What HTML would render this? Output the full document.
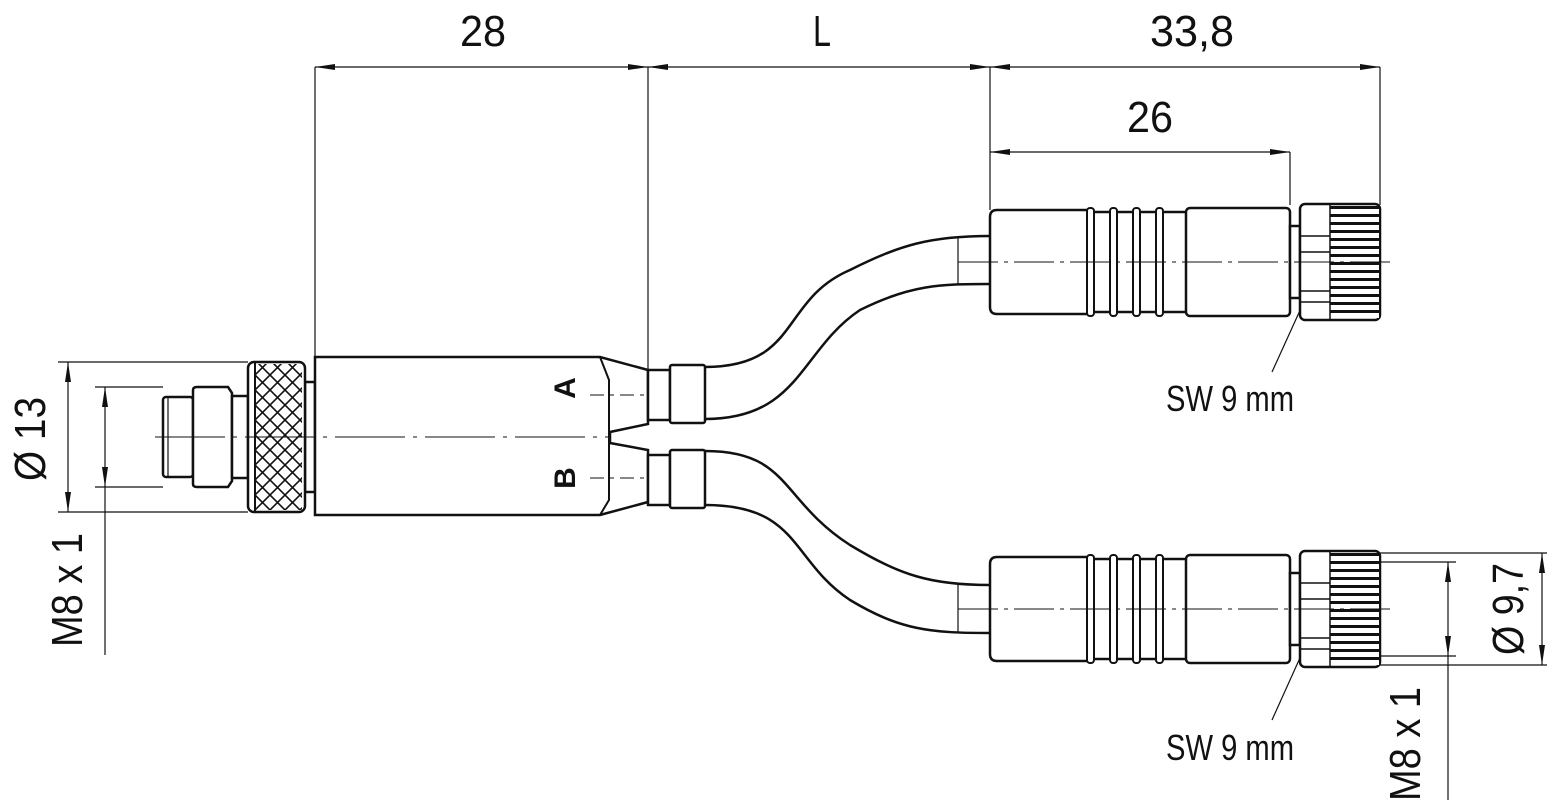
<!DOCTYPE html>
<html><head><meta charset="utf-8"><style>html,body{margin:0;padding:0;background:#fff}svg{display:block}text{font-family:"Liberation Sans",sans-serif;fill:#111}</style></head><body>
<svg width="1549" height="803" viewBox="0 0 1549 803" xmlns="http://www.w3.org/2000/svg">
<defs>
<marker id="ar" viewBox="0 0 20 6" refX="20" refY="3" markerWidth="20" markerHeight="6" orient="auto-start-reverse" markerUnits="userSpaceOnUse"><path d="M0,0 L20,3 L0,6 z" fill="#111"/></marker>
<pattern id="kn" width="15" height="15" patternUnits="userSpaceOnUse"><rect width="15" height="15" fill="#fff"/><path d="M0,0 L15,15 M15,0 L0,15" stroke="#111" stroke-width="1.6"/></pattern>
<pattern id="kr" width="10" height="8" patternUnits="userSpaceOnUse"><rect width="10" height="8" fill="#fff"/><rect y="0" width="10" height="3" fill="#111"/></pattern>
<g id="conn">
<path d="M990,-45 Q990,-52 997,-52 L1088,-52 L1088,52 L997,52 Q990,52 990,45 Z" fill="#fff" stroke="#111" stroke-width="2.5"/>
<rect x="1088" y="-50" width="100" height="100" fill="#fff" stroke="#111" stroke-width="2.5"/>
<g fill="#fff" stroke="#111" stroke-width="2">
<rect x="1087" y="-54" width="7" height="108" rx="3"/><rect x="1110" y="-54" width="7" height="108" rx="3"/><rect x="1133" y="-54" width="7" height="108" rx="3"/><rect x="1156" y="-54" width="7" height="108" rx="3"/>
</g>
<g fill="#fff" stroke="#111" stroke-width="2.5">
<rect x="1186" y="-54" width="104" height="108" rx="4"/>
<rect x="1290" y="-36" width="10" height="72"/>
<rect x="1300" y="-58" width="80" height="116" rx="5"/>
</g>
<rect x="1330" y="-56" width="49" height="112" fill="url(#kr)"/>
<path d="M1300,-26 H1330 M1300,-10 H1330 M1300,29 H1330 M1300,40 H1330 M1330,-58 V58" stroke="#111" stroke-width="1.5"/>
<path d="M958,0 H1390" stroke="#111" stroke-width="1" stroke-dasharray="40,6,4,6"/>
</g>
</defs>
<g stroke="#111" stroke-width="1.2" fill="none">
<path d="M315,67 V357 M648,67 V370 M990,67 V210 M1380,67 V205 M1290,152 V205"/>
<path d="M315,67 H648" marker-start="url(#ar)" marker-end="url(#ar)"/>
<path d="M648,67 H990" marker-start="url(#ar)" marker-end="url(#ar)"/>
<path d="M990,67 H1380" marker-start="url(#ar)" marker-end="url(#ar)"/>
<path d="M990,152 H1290" marker-start="url(#ar)" marker-end="url(#ar)"/>
<path d="M58,362 H248 M58,512 H248 M95,387 H163 M95,487 H163"/>
<path d="M68,362 V512" marker-start="url(#ar)" marker-end="url(#ar)"/>
<path d="M105,387 V487" marker-start="url(#ar)" marker-end="url(#ar)"/>
<path d="M105,487 V655"/>
<path d="M1380,553 H1547 M1380,665 H1547 M1380,562 H1456 M1380,656 H1456"/>
<path d="M1542,553 V665" marker-start="url(#ar)" marker-end="url(#ar)"/>
<path d="M1448,562 V656" marker-start="url(#ar)" marker-end="url(#ar)"/>
<path d="M1448,656 V800"/>
<path d="M1272,372 L1322,262" marker-end="url(#ar)"/>
<path d="M1272,720 L1322,609" marker-end="url(#ar)"/>
</g>
<g stroke="#111" stroke-width="2.5" fill="none">
<path d="M705,367 C800,367 780,300 850,270 C900,245 930,236 990,236"/>
<path d="M705,419 C800,419 800,350 860,310 C910,285 940,284 990,284"/>
<path d="M705,451 C790,451 780,500 850,545 C900,575 930,585 990,585"/>
<path d="M705,505 C800,505 790,560 850,600 C900,630 930,633 990,633"/>
</g>
<path d="M958,236 V284 M958,585 V633" stroke="#111" stroke-width="1.2"/>
<use href="#conn" transform="translate(0,262)"/>
<use href="#conn" transform="translate(0,609)"/>
<g stroke="#111" stroke-width="2.5" fill="#fff">
<rect x="163" y="397" width="30" height="80" rx="3"/>
<path d="M193,390 Q193,387 197,387 L228,387 L232,393 L232,481 L228,487 L197,487 Q193,487 193,484 Z"/>
<rect x="232" y="396" width="16" height="82"/>
<rect x="305" y="382" width="10" height="110"/>
<rect x="248" y="362" width="57" height="150" rx="6"/>
</g>
<rect x="255" y="364" width="47" height="146" fill="url(#kn)"/>
<path d="M255,362 V512" stroke="#111" stroke-width="2"/>
<path d="M168,397 V477" stroke="#111" stroke-width="1.2"/>
<g stroke="#111" stroke-width="2.5" fill="#fff">
<path d="M315,357 H600 L648,370 V424 L610,432 V443 L648,450 V502 L600,515 H315 Z"/>
<rect x="648" y="370" width="22" height="50"/><rect x="648" y="455" width="22" height="50"/>
<rect x="670" y="365" width="35" height="58" rx="2"/><rect x="670" y="450" width="35" height="58" rx="2"/>
</g>
<path d="M600,357 L609,380 V500 L600,515 M609,432 L648,424 M609,443 L648,450" stroke="#111" stroke-width="2" fill="none"/>
<path d="M155,437 H610" stroke="#111" stroke-width="1" stroke-dasharray="70,8,4,8"/>
<path d="M590,395 H650 M590,478 H650" stroke="#111" stroke-width="1" stroke-dasharray="14,6,4,6"/>
<g font-size="44">
<text x="483" y="46" text-anchor="middle" textLength="46" lengthAdjust="spacingAndGlyphs">28</text>
<text x="822" y="46" text-anchor="middle" textLength="18" lengthAdjust="spacingAndGlyphs">L</text>
<text x="1192" y="46" text-anchor="middle" textLength="84" lengthAdjust="spacingAndGlyphs">33,8</text>
<text x="1150" y="132" text-anchor="middle" textLength="46" lengthAdjust="spacingAndGlyphs">26</text>
<text transform="translate(45,439) rotate(-90)" text-anchor="middle" textLength="84" lengthAdjust="spacingAndGlyphs">Ø 13</text>
<text transform="translate(82,590) rotate(-90)" text-anchor="middle" textLength="114" lengthAdjust="spacingAndGlyphs">M8 x 1</text>
<text transform="translate(1523,609) rotate(-90)" text-anchor="middle" textLength="92" lengthAdjust="spacingAndGlyphs">Ø 9,7</text>
<text transform="translate(1420,744) rotate(-90)" text-anchor="middle" textLength="114" lengthAdjust="spacingAndGlyphs">M8 x 1</text>
</g>
<g font-size="36">
<text x="1230" y="411" text-anchor="middle" textLength="128" lengthAdjust="spacingAndGlyphs">SW 9 mm</text>
<text x="1230" y="760" text-anchor="middle" textLength="128" lengthAdjust="spacingAndGlyphs">SW 9 mm</text>
</g>
<g font-size="30" font-weight="bold">
<text transform="translate(575,388) rotate(-90)" text-anchor="middle">A</text>
<text transform="translate(575,478) rotate(-90)" text-anchor="middle">B</text>
</g>
</svg>
</body></html>
